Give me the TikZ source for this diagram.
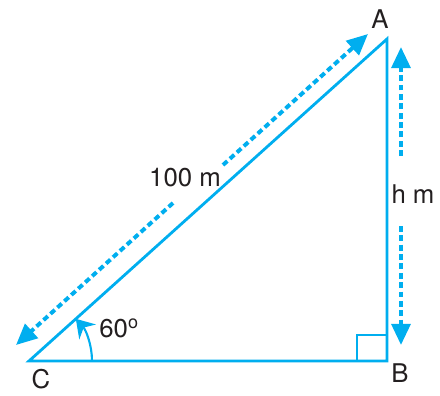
\documentclass[tikz,border=0pt]{standalone}
\usepackage{fontspec}
\setmainfont{TeX Gyre Heros}
\usetikzlibrary{arrows.meta, calc}
\definecolor{cyanline}{RGB}{0,174,239}
\definecolor{inkgray}{RGB}{35,31,32}

\begin{document}
\begin{tikzpicture}[scale=0.03, >=Stealth,
    side/.style={cyanline, line width=2.4pt},
    measure/.style={cyanline, line width=3.4pt, dash pattern=on 5pt off 3pt,
      -{Triangle[length=18pt, width=16pt]}},
    lbl/.style={inkgray, inner sep=1pt, font=\fontsize{22}{26}\selectfont}]
  \useasboundingbox (0,0) rectangle (440,396);

  % Define vertices
  \coordinate (C) at (29,35);
  \coordinate (B) at (387,35);
  \coordinate (A) at (387,357);

  % Triangle
  \draw[side] (A) -- (C) -- (B) -- cycle;

  % Right angle mark
  \draw[cyanline, line width=1.8pt] ($(B)+(-30,0)$) -- ($(B)+(-30,26)$) -- ($(B)+(0,26)$);

  % Angle at C
  \draw[cyanline, line width=1.8pt, -{Stealth[length=15pt, width=19pt, inset=5pt]}]
    ($(C)+(63,0)$) arc (0:42:63);

  % Measure along CA
  \coordinate (p1) at (173,193);
  \coordinate (p2) at (16,51);
  \coordinate (p3) at (223,231);
  \coordinate (p4) at (368,362);
  \draw[measure] (p1) -- (p2);
  \draw[measure] (p3) -- (p4);

  % Measure along AB
  \coordinate (q1) at (401,240);
  \coordinate (q2) at (401,349);
  \coordinate (q3) at (401,170);
  \coordinate (q4) at (401,51);
  \draw[measure] (q1) -- (q2);
  \draw[measure] (q3) -- (q4);

  % Labels
  \node[lbl] (labA) at (380,377) {A};
  \node[lbl] (labB) at (400,23) {B};
  \node[lbl] (labC) at (41,17) {C};
  \node[lbl] (dist) at (185,218) {100 m};
  \node[lbl] (height) at (413,202) {h m};
  \node[lbl] (ang) at (119,68) {60\textsuperscript{o}};

\end{tikzpicture}
\end{document}
